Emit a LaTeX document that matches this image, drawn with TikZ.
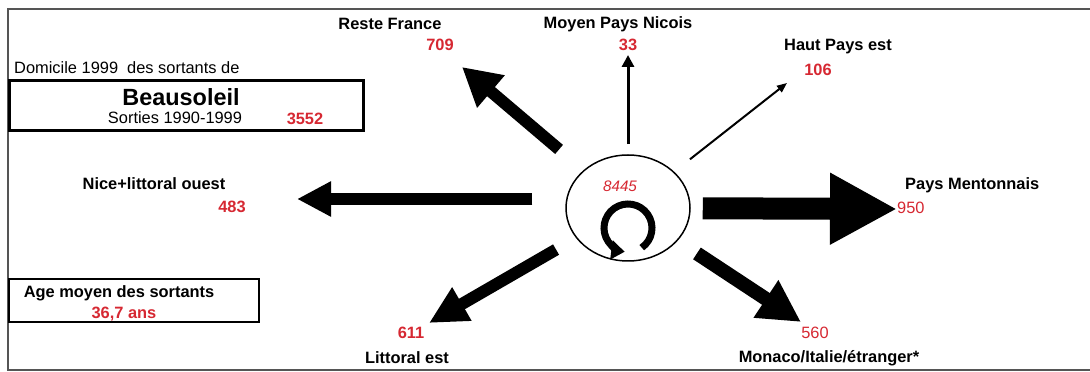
\documentclass[tikz,border=0pt]{standalone}
\usepackage{fontspec}
\setmainfont{Liberation Sans}
\usetikzlibrary{arrows.meta,shapes.geometric}
\definecolor{chiffre}{RGB}{214,40,50}
\definecolor{cadre}{RGB}{85,85,85}

\begin{document}
\begin{tikzpicture}[
  x=0.3mm, y=0.3mm,
  font=\fontsize{14}{16}\selectfont,
  lieu/.style={font=\fontsize{14}{16}\selectfont\bfseries, inner sep=0pt},
  nb/.style={text=chiffre, font=\fontsize{14}{16}\selectfont\bfseries, inner sep=0pt},
  nbfin/.style={text=chiffre, inner sep=0pt},
  boite/.style={draw, inner sep=0pt, anchor=north west},
  fleche/.style={-{Triangle[#1]}}
]
  \useasboundingbox (0,0) rectangle (1090,-372);
  % cadre
  \draw[cadre, line width=0.75mm] (1090,-9) -- (8,-9) -- (8,-370) -- (1090,-370);
  % commune et encadres
  \node[anchor=west, inner sep=0pt] (titre) at (14,-68) {Domicile 1999~ des sortants de};
  \node[boite, line width=0.9mm, minimum width=106.2mm, minimum height=15mm] (ville) at (8,-79) {};
  \node[font=\fontsize{20}{22}\selectfont\bfseries, inner sep=0pt] (nom) at (181,-97) {Beausoleil};
  \node[inner sep=0pt] (sorties) at (175,-118) {Sorties 1990-1999};
  \node[nb] (total) at (305,-119) {3552};
  \node[boite, line width=0.6mm, minimum width=75mm, minimum height=12.9mm] (age) at (8,-278) {};
  \node[lieu] (agetxt) at (119,-293) {Age moyen des sortants};
  \node[nb] (ageval) at (124,-314) {36,7 ans};
  % centre
  \node[draw, ellipse, line width=0.45mm, minimum width=37.2mm, minimum height=31.8mm, inner sep=0pt] (hub) at (628,-208) {};
  \node[text=chiffre, font=\fontsize{13}{15}\selectfont\itshape, inner sep=0pt] (stables) at (620,-186) {8445};
  \draw[line width=2.1mm, fleche={length=4mm, width=5.6mm}] (628,-228) ++(-55:24) arc[start angle=-55, end angle=262, radius=24];
  % destinations
  \node[lieu] (nice) at (154,-184) {Nice+littoral ouest};
  \node[nb] (nice-nb) at (232,-207) {483};
  \node[lieu] (reste) at (390,-24) {Reste France};
  \node[nb] (reste-nb) at (440,-45) {709};
  \node[lieu] (moyen) at (618,-24) {Moyen Pays Nicois};
  \node[nb] (moyen-nb) at (628,-45) {33};
  \node[lieu] (haut) at (838,-47) {Haut Pays est};
  \node[nb] (haut-nb) at (818,-70) {106};
  \node[lieu, anchor=west] (menton) at (905,-185) {Pays Mentonnais};
  \node[nbfin, anchor=west] (menton-nb) at (897,-208) {950};
  \node[nb] (littoral-nb) at (411,-333) {611};
  \node[lieu] (littoral) at (407,-358) {Littoral est};
  \node[nbfin] (monaco-nb) at (815,-333) {560};
  \node[lieu] (monaco) at (829,-358) {Monaco/Italie/étranger*};
  % pointes des fleches
  \coordinate (t-nice) at (297,-199);
  \coordinate (t-reste) at (462,-67);
  \coordinate (t-moyen) at (628,-55);
  \coordinate (t-haut) at (787,-83);
  \coordinate (t-menton) at (897,-209);
  \coordinate (t-littoral) at (429,-323);
  \coordinate (t-monaco) at (801,-322);
  % fleches
  \draw[line width=3.6mm, shorten <=9.9mm, fleche={length=10.2mm, width=9.9mm}] (hub.west |- t-nice) -- (t-nice);
  \draw[line width=3.6mm, shorten <=9.6mm, fleche={length=11.4mm, width=12mm}] (hub) -- (t-reste);
  \draw[line width=0.9mm, shorten <=3mm, fleche={length=3.6mm, width=3.6mm}] (hub) -- (t-moyen);
  \draw[line width=0.6mm, shorten <=6mm, fleche={length=3mm, width=2.4mm}] (hub) -- (t-haut);
  \draw[line width=6.6mm, shorten <=3.6mm, fleche={length=20.1mm, width=20.1mm}] (hub) -- (t-menton);
  \draw[line width=3.6mm, shorten <=6.9mm, fleche={length=11.4mm, width=10.8mm}] (hub) -- (t-littoral);
  \draw[line width=4.2mm, shorten <=6.9mm, fleche={length=12.6mm, width=12.6mm}] (hub) -- (t-monaco);
\end{tikzpicture}
\end{document}
